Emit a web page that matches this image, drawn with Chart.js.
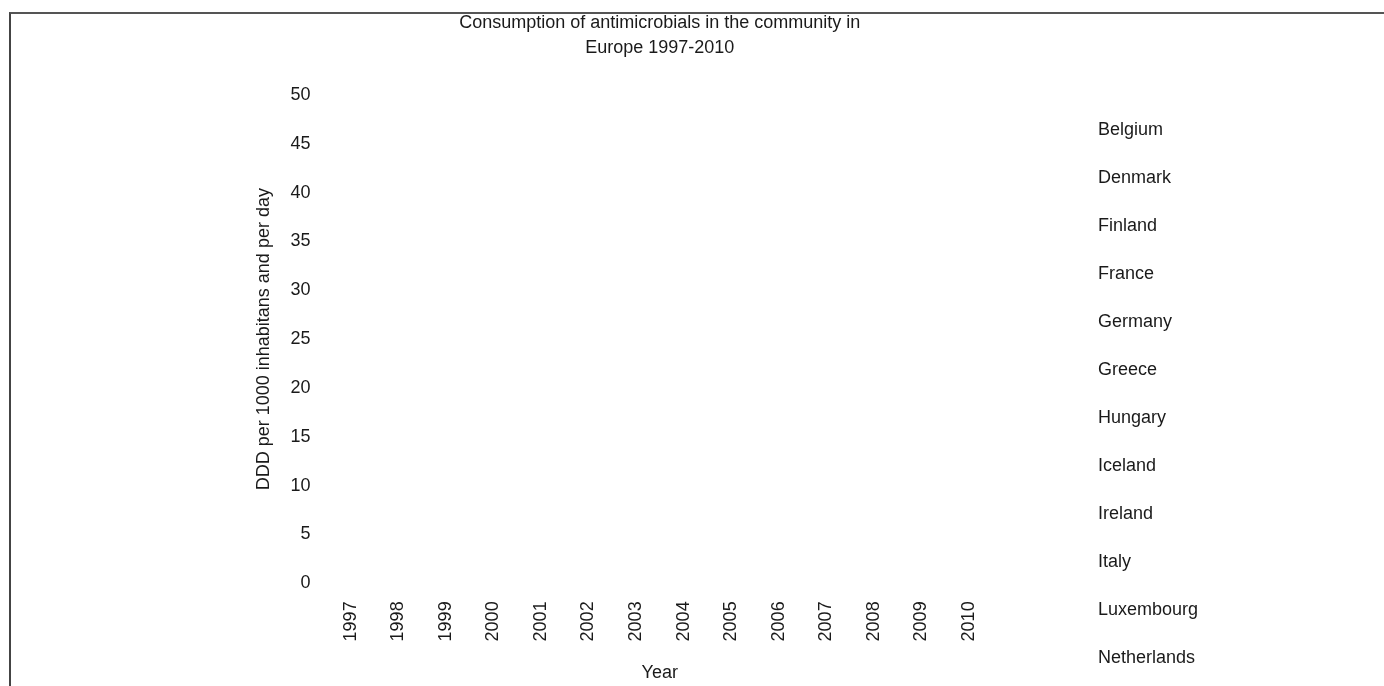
<!DOCTYPE html>
<html>
<head>
<meta charset="utf-8">
<script src="https://cdn.jsdelivr.net/npm/chart.js@4"></script>
<style>
  html, body { margin: 0; padding: 0; background: #fff; overflow: hidden; }
  #wrap { position: relative; width: 1384px; height: 686px; }
  #frame { position: absolute; left: 9px; top: 12px; right: -20px; bottom: -20px;
           border-top: 2px solid #555; border-left: 2px solid #444; pointer-events: none; }
</style>
</head>
<body>
<div id="wrap">
  <canvas id="myChart" width="1384" height="686"></canvas>
  <div id="frame"></div>
</div>
<script>
// years on the x axis
const years = ['1997', '1998', '1999', '2000', '2001', '2002', '2003',
               '2004', '2005', '2006', '2007', '2008', '2009', '2010'];
// countries shown in the legend
const countries = ['Belgium', 'Denmark', 'Finland', 'France', 'Germany', 'Greece',
                   'Hungary', 'Iceland', 'Ireland', 'Italy', 'Luxembourg', 'Netherlands'];
// the reference plots no values at all, so every series is empty
const seriesValues = [[], [], [], [], [], [], [], [], [], [], [], []];
const lineColors = ['#1f4e9c', '#c0392b', '#27ae60', '#8e44ad', '#e67e22', '#16a085',
                    '#7f8c8d', '#d35400', '#2c3e50', '#f1c40f', '#e84393', '#6c5ce7'];
// y axis
const yMin = 0;
const yMax = 50;
const yStep = 5;

Chart.defaults.font.family = '"Liberation Sans", Arial, sans-serif';
Chart.defaults.font.size = 18;
Chart.defaults.color = '#1a1a1a';

const datasets = [];
for (var i = 0; i < countries.length; i++) {
  datasets.push({
    label: countries[i],
    data: seriesValues[i],
    borderColor: lineColors[i],
    backgroundColor: lineColors[i],
    borderWidth: 2,
    pointRadius: 0
  });
}

// invisible grid: only used so tick spacing can be set
const hiddenGrid = { display: true, color: 'rgba(0,0,0,0)', drawOnChartArea: false };

const ctx = document.getElementById('myChart').getContext('2d');
const myChart = new Chart(ctx, {
  type: 'line',
  data: {
    labels: years,
    datasets: datasets
  },
  options: {
    responsive: false,
    animation: false,
    layout: {
      padding: { left: 249, right: 176, top: 0, bottom: 0 }
    },
    plugins: {
      title: {
        display: true,
        fullSize: false,
        text: ['Consumption of antimicrobials in the community in', 'Europe 1997-2010'],
        font: { size: 18, weight: 'normal', lineHeight: '25px' },
        padding: { top: 10.5, bottom: 34.5 }
      },
      legend: {
        position: 'right',
        align: 'start',
        title: {
          display: true,
          text: '',
          font: { size: 20 },
          padding: { top: 81, bottom: 0 }
        },
        labels: {
          boxWidth: 118,
          boxHeight: 46,
          padding: 2,
          generateLabels: function (chart) {
            const items = Chart.defaults.plugins.legend.labels.generateLabels(chart);
            items.forEach(function (it) {
              it.fillStyle = 'rgba(0,0,0,0)';
              it.strokeStyle = 'rgba(0,0,0,0)';
              it.lineWidth = 0;
            });
            return items;
          }
        }
      },
      tooltip: { enabled: false }
    },
    scales: {
      x: {
        type: 'category',
        offset: false,
        grid: Object.assign({ tickLength: 14 }, hiddenGrid),
        border: { display: false },
        ticks: { minRotation: 90, maxRotation: 90, padding: 4, autoSkip: false },
        title: {
          display: true,
          text: 'Year',
          padding: { top: 17, bottom: 2 }
        }
      },
      y: {
        min: yMin,
        max: yMax,
        grid: Object.assign({ tickLength: 36 }, hiddenGrid),
        border: { display: false },
        ticks: { stepSize: yStep, padding: 4 },
        title: {
          display: true,
          text: 'DDD per 1000 inhabitans and per day',
          padding: { top: 4, bottom: 12 }
        }
      }
    }
  }
});
</script>
</body>
</html>
